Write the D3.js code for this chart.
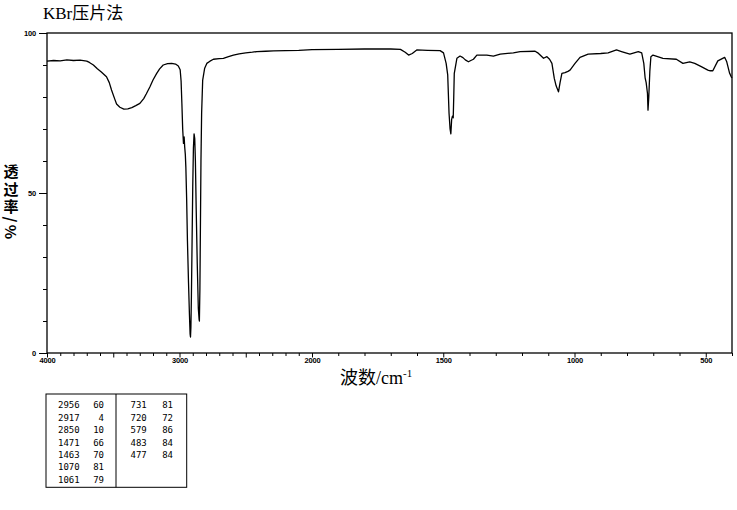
<!DOCTYPE html>
<html><head><meta charset="utf-8">
<script src="https://cdn.jsdelivr.net/npm/d3@7/dist/d3.min.js"></script>
<style>html,body{margin:0;padding:0;background:#fff;}</style>
</head><body>
<script>
// spectrum data (wavenumber cm-1, transmittance %)
const wavenumbers = [4000,3950,3900,3850,3800,3750,3700,3680,3650,3620,3590,3551,3530,3513,3490,3475,3450,3420,3390,3360,3330,3299,3270,3250,3223,3200,3172,3150,3123,3090,3059,3030,3009,2995,2988,2982,2976,2970,2965,2961,2956,2952,2946,2940,2932,2925,2920,2917,2914,2910,2905,2900,2895,2890,2885,2880,2874,2866,2858,2852,2850,2846,2842,2838,2833,2825,2810,2794,2770,2744,2700,2669,2630,2593,2550,2500,2450,2416,2350,2290,2200,2100,2000,1900,1800,1740,1700,1663,1645,1632,1618,1601,1560,1512,1499,1489,1483,1478,1474,1471,1468,1465,1462,1460,1458,1448,1436,1425,1416,1404,1395,1385,1372,1334,1309,1283,1233,1207,1150,1140,1131,1118,1105,1095,1086,1077,1070,1061,1055,1048,1036,1025,1017,998,979,948,900,872,840,821,789,757,744,736,731,727,722,720,717,713,709,701,663,612,587,561,542,517,492,483,473,454,428,420,409,403,400];
const transmittance = [91.2,91.4,91.3,91.6,91.4,91.5,91.2,90.8,90.0,88.8,87.8,86.3,84.5,82.2,79.5,77.8,76.8,76.2,76.3,76.7,77.3,78.0,79.5,81.0,83.2,85.3,87.4,88.8,90.0,90.4,90.5,90.3,89.7,88.5,85.0,78.0,70.0,65.5,67.5,64.5,62.0,58.0,48.0,35.0,22.0,12.0,6.0,5.0,8.0,18.0,35.0,52.0,64.0,68.5,67.0,60.0,45.0,28.0,14.0,10.5,10.0,20.0,40.0,60.0,75.0,85.3,89.0,90.5,91.2,91.8,92.0,92.1,92.6,93.1,93.5,93.8,94.0,94.2,94.3,94.4,94.5,94.6,94.8,94.9,95.0,95.0,95.0,94.9,94.0,93.1,93.6,94.7,94.6,94.5,93.8,90.5,86.9,75.0,70.0,68.5,73.0,74.0,73.5,80.0,87.4,92.1,92.8,92.3,91.6,91.0,91.4,91.8,93.1,93.1,92.8,93.4,93.8,94.2,94.3,93.8,93.1,92.1,92.6,91.8,90.5,85.8,83.5,81.6,84.5,87.4,87.6,88.0,88.4,90.5,92.4,93.4,93.6,93.8,94.7,94.2,93.4,94.2,93.8,90.5,86.0,84.5,81.1,75.9,80.0,88.0,92.6,93.1,92.1,91.8,90.5,91.0,90.5,89.5,88.4,88.2,88.2,91.3,92.4,91.0,87.4,86.3,86.0];

const yTickLabels = [0, 50, 100];
const xTickLabels = [4000, 3000, 2000, 1500, 1000, 500];

const peakWn = [2956, 2917, 2850, 1471, 1463, 1070, 1061, 731, 720, 579, 483, 477];
const peakT  = [60, 4, 10, 66, 70, 81, 79, 81, 72, 86, 84, 84];

const W = 737, H = 510;
const L = 47, R = 732, T = 33, B = 353;

const svg = d3.select("body").append("svg")
  .attr("width", W).attr("height", H)
  .style("background", "#fff");

const x = d3.scaleLinear().domain([4000, 2000, 400]).range([L, 312, R]);
const y = d3.scaleLinear().domain([0, 100]).range([B, T]);

const tickFont = "'Liberation Sans', Arial, sans-serif";

// frame
svg.append("rect").attr("x", L).attr("y", T).attr("width", R - L).attr("height", B - T)
  .attr("fill", "none").attr("stroke", "#000").attr("stroke-width", 1.3);

// y axis
const yAxis = d3.axisLeft(y).tickValues(d3.range(0, 101, 10))
  .tickSize(4).tickFormat(d => yTickLabels.includes(d) ? d : "");
const gy = svg.append("g").attr("transform", `translate(${L},0)`).call(yAxis);
gy.select(".domain").remove();
gy.selectAll(".tick line").attr("stroke", "#000").attr("stroke-width", 1)
  .attr("x2", d => yTickLabels.includes(d) ? -8 : -4);
gy.selectAll(".tick text").attr("x", -11).attr("font-family", tickFont)
  .attr("font-size", 7.5).attr("font-weight", "bold").attr("letter-spacing", -0.2).attr("fill", "#000");

// x axis
const xAxis = d3.axisBottom(x).tickValues(d3.range(4000, 399, -100))
  .tickSize(3).tickFormat(d => xTickLabels.includes(d) ? d : "");
const gx = svg.append("g").attr("transform", `translate(0,${B})`).call(xAxis);
gx.select(".domain").remove();
gx.selectAll(".tick line").attr("stroke", "#000").attr("stroke-width", 1)
  .attr("y2", d => d % 500 === 0 ? 4.5 : 3);
gx.selectAll(".tick text").attr("y", 5).attr("font-family", tickFont)
  .attr("font-size", 7.5).attr("font-weight", "bold").attr("letter-spacing", -0.2).attr("fill", "#000");

// spectrum line
const pts = wavenumbers.map((w, i) => [w, transmittance[i]]);
svg.append("path").datum(pts)
  .attr("fill", "none").attr("stroke", "#000").attr("stroke-width", 1.3)
  .attr("stroke-linejoin", "round")
  .attr("d", d3.line().x(d => x(d[0])).y(d => y(d[1])));

// title
svg.append("text").attr("x", 43).attr("y", 19)
  .attr("font-family", "'Liberation Serif', 'Noto Sans CJK SC', serif")
  .attr("font-size", 17).attr("fill", "#000").text("KBr压片法");

// x label
const xl = svg.append("text").attr("x", 340).attr("y", 384)
  .attr("font-family", "'Liberation Serif', 'Noto Sans CJK SC', serif")
  .attr("font-size", 18).attr("fill", "#000");
xl.append("tspan").text("波数/cm");
xl.append("tspan").attr("font-size", 11).attr("dy", -7).text("-1");

// y label (vertical writing: CJK upright, "/%" sideways)
svg.append("text").attr("x", 11).attr("y", 164)
  .style("writing-mode", "vertical-rl")
  .attr("font-family", "'Noto Sans CJK SC', sans-serif")
  .attr("font-size", 15).attr("font-weight", "bold")
  .attr("letter-spacing", 2.5).attr("fill", "#000").text("透过率/%");

// peak table
const tx = 46, ty = 394, tw = 140.7, th = 93.3, div = 116;
svg.append("rect").attr("x", tx).attr("y", ty).attr("width", tw).attr("height", th)
  .attr("fill", "none").attr("stroke", "#000").attr("stroke-width", 1);
svg.append("line").attr("x1", div).attr("x2", div).attr("y1", ty).attr("y2", ty + th)
  .attr("stroke", "#000").attr("stroke-width", 1);
const monoFont = "'DejaVu Sans Mono', 'Liberation Mono', monospace";
peakWn.forEach((w, i) => {
  const col = i < 7 ? 0 : 1;
  const row = i < 7 ? i : i - 7;
  const by = 408.3 + row * 12.4;
  svg.append("text").attr("x", col ? 130.5 : 58).attr("y", by)
    .attr("font-family", monoFont).attr("font-size", 9).attr("fill", "#000").text(w);
  svg.append("text").attr("x", col ? 173 : 104).attr("y", by).attr("text-anchor", "end")
    .attr("font-family", monoFont).attr("font-size", 9).attr("fill", "#000").text(peakT[i]);
});
</script>
</body></html>
